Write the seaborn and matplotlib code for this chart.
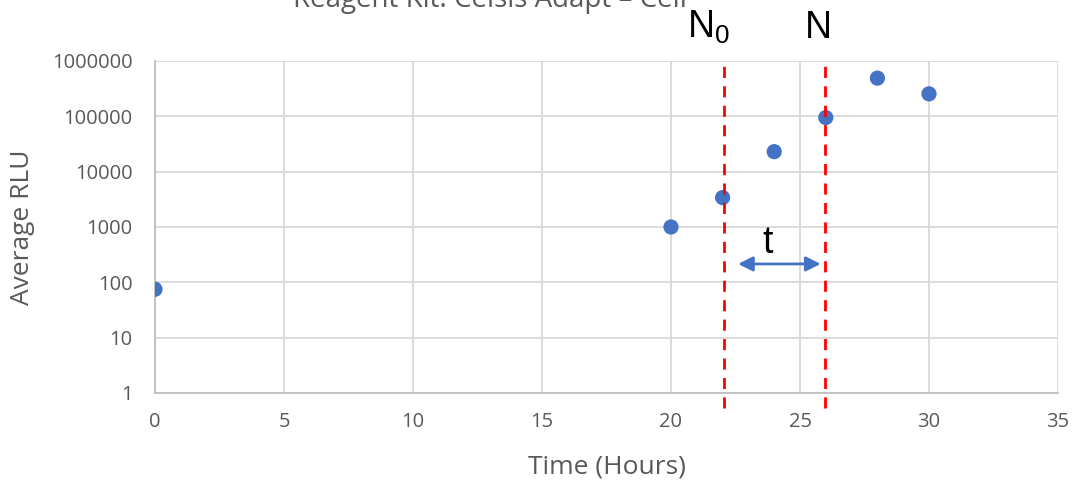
import matplotlib
matplotlib.use("Agg")
import matplotlib.pyplot as plt
import seaborn as sns
import pandas as pd

# Data
time_hours = [0, 20, 22, 24, 26, 28, 30]
avg_rlu = [75, 1000, 3400, 23000, 95000, 490000, 255000]
x_ticks = [0, 5, 10, 15, 20, 25, 30, 35]
y_ticks = [1, 10, 100, 1000, 10000, 100000, 1000000]
y_tick_labels = ["1", "10", "100", "1000", "10000", "100000", "1000000"]
n0_time = 22.05
n_time = 25.95
arrow_span = [22.6, 25.8]
arrow_level = 215

sns.set_style("white")
plt.rcParams['font.family'] = ['Open Sans', 'DejaVu Sans']
plt.rcParams['mathtext.default'] = 'regular'

df = pd.DataFrame({"Time": time_hours, "RLU": avg_rlu})

fig = plt.figure(figsize=(10.72, 4.82), dpi=100)
ax = fig.add_axes([155/1072, (482-393)/482, (1058-155)/1072, (393-61)/482])

grid_c = "#D9D9D9"
text_c = "#595959"

sns.scatterplot(data=df, x="Time", y="RLU", ax=ax, s=120, color="#4472C4",
                edgecolor="none", zorder=3, legend=False)
ax.set_yscale("log")
ax.set_xlim(0, 35)
ax.set_ylim(1, 1e6)
ax.set_xticks(x_ticks)
ax.set_yticks(y_ticks)
ax.set_yticklabels(y_tick_labels)
ax.minorticks_off()
ax.grid(True, color=grid_c, linewidth=1.3, zorder=0)
ax.set_axisbelow(True)
for side in ["top", "right"]:
    ax.spines[side].set_visible(False)
for side in ["left", "bottom"]:
    ax.spines[side].set_color("#BFBFBF")
    ax.spines[side].set_linewidth(1.3)
ax.tick_params(axis="both", length=0, labelsize=14.5, colors=text_c)
ax.tick_params(axis="y", pad=16)
ax.tick_params(axis="x", pad=14)
ax.set_xlabel("Time (Hours)", fontsize=19, color=text_c, labelpad=16)
ax.set_ylabel("Average RLU", fontsize=19, color=text_c, labelpad=12)

# Red dashed markers
for xv in (n0_time, n_time):
    ax.plot([xv, xv], [-0.045, 0.99], transform=ax.get_xaxis_transform(),
            color="#FF0000", linestyle=(0, (4, 3)), linewidth=2, clip_on=False, zorder=4)

# Double arrow
ax.annotate("", xy=(arrow_span[0], arrow_level), xytext=(arrow_span[1], arrow_level),
            arrowprops=dict(arrowstyle="<|-|>", color="#4472C4", lw=2,
                            mutation_scale=22, shrinkA=0, shrinkB=0), zorder=5)
ax.text(sum(arrow_span)/2 - 0.45, arrow_level * 1.12, "t", fontsize=27, color="black",
        ha="center", va="bottom", family=["Liberation Sans", "DejaVu Sans"])

ax.text(n0_time - 0.6, 1.045, r"N$_0$", transform=ax.get_xaxis_transform(),
        fontsize=27, color="black", ha="center", va="bottom",
        family=["Liberation Sans", "DejaVu Sans"])
ax.text(n_time - 0.25, 1.045, "N", transform=ax.get_xaxis_transform(),
        fontsize=27, color="black", ha="center", va="bottom",
        family=["Liberation Sans", "DejaVu Sans"])

fig.text(490/1072, 1 - 7/482, "Reagent Kit: Celsis Adapt – Cell", fontsize=20,
         color=text_c, ha="center", va="baseline")

fig.savefig("out.png", dpi=100)
